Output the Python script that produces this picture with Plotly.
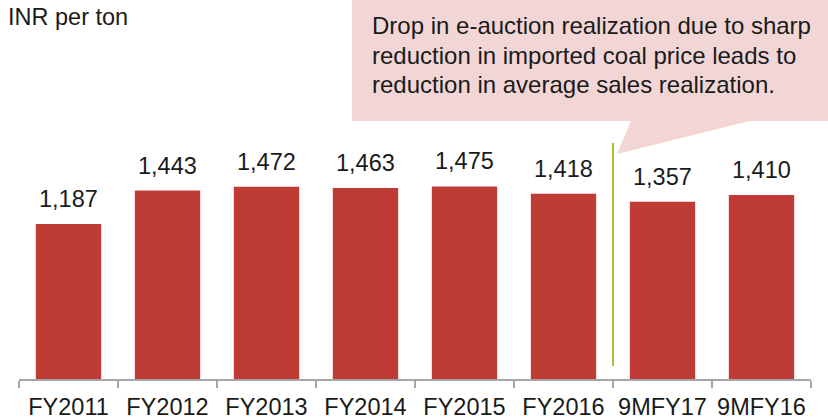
import plotly.graph_objects as go

categories = ["FY2011", "FY2012", "FY2013", "FY2014", "FY2015", "FY2016", "9MFY17", "9MFY16"]
values = [1187, 1443, 1472, 1463, 1475, 1418, 1357, 1410]
value_labels = ["1,187", "1,443", "1,472", "1,463", "1,475", "1,418", "1,357", "1,410"]
unit_label = "INR per ton"
callout_lines = [
    "Drop in e-auction realization due to sharp",
    "reduction in imported coal price leads to",
    "reduction in average sales realization.",
]

W, H = 828, 419
ML, MR, MT, MB = 19, 17, 0, 40
PW, PH = W - ML - MR, H - MT - MB
SCALE = 155 / 1187  # px per unit
YMAX = PH / SCALE

def px(x):
    return (x - ML) / PW

def py(y):
    return (H - MB - y) / PH

FONT = "Liberation Sans, Arial, sans-serif"
TXT = "#1a1a1a"

fig = go.Figure()
fig.add_trace(go.Bar(
    x=categories, y=values,
    marker=dict(color="#BF3B36", line=dict(width=0)),
    width=0.66,
    hoverinfo="skip",
))

annotations = []
for c, v, lab in zip(categories, values, value_labels):
    annotations.append(dict(x=c, y=v, xref="x", yref="y", text=lab, showarrow=False,
                            yanchor="bottom", yshift=10,
                            font=dict(family=FONT, size=23.5, color=TXT)))

annotations.append(dict(x=px(6), y=py(17), xref="paper", yref="paper", text=unit_label,
                        showarrow=False, xanchor="left", yanchor="middle",
                        font=dict(family=FONT, size=23.5, color=TXT)))

line_y = [26, 55, 84]
for t, yy in zip(callout_lines, line_y):
    annotations.append(dict(x=px(370), y=py(yy), xref="paper", yref="paper", text=t,
                            showarrow=False, xanchor="left", yanchor="middle",
                            font=dict(family=FONT, size=24, color=TXT)))

path = "M {a},{b} L {c},{b} L {c},{d} L {e},{d} L {f},{g} L {h},{d} L {a},{d} Z".format(
    a=px(352), b=py(-5), c=px(840), d=py(121), e=px(750), f=px(617), g=py(154), h=px(631))

shapes = [
    dict(type="path", path=path, xref="paper", yref="paper",
         fillcolor="#F2D6D6", line=dict(width=0), layer="below"),
    dict(type="line", xref="x", yref="y", x0=5.5, x1=5.5,
         y0=(379 - 366) / SCALE, y1=(379 - 143) / SCALE,
         line=dict(color="#A5C23A", width=2)),
]

fig.update_layout(
    width=W, height=H,
    margin=dict(l=ML, r=MR, t=MT, b=MB),
    paper_bgcolor="white", plot_bgcolor="white",
    showlegend=False,
    hovermode=False,
    annotations=annotations,
    shapes=shapes,
    xaxis=dict(
        range=[-0.5, 7.5], fixedrange=True,
        showline=True, linecolor="#A6A6A6", linewidth=1.5,
        ticks="outside", tickson="boundaries", ticklen=7, tickcolor="#A6A6A6", tickwidth=1.5,
        ticklabelstandoff=6,
        tickfont=dict(family=FONT, size=23.5, color=TXT),
        showgrid=False, zeroline=False,
    ),
    yaxis=dict(range=[0, YMAX], visible=False, showgrid=False, zeroline=False, fixedrange=True),
)

fig.write_html(
    "out.html",
    config={"displayModeBar": False, "staticPlot": True},
    post_script="document.body.style.margin='0';document.body.style.overflow='hidden';",
)
